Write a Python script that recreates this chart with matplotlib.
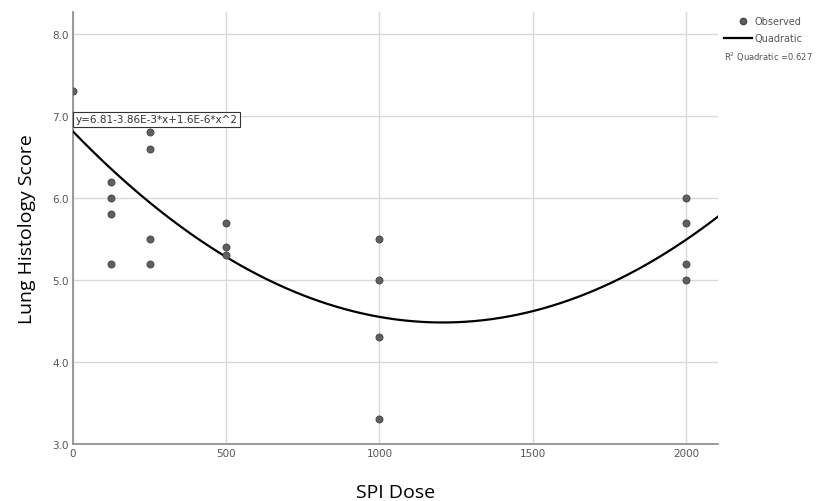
import numpy as np
import matplotlib
matplotlib.use("Agg")
import matplotlib.pyplot as plt

dose = [0, 125, 125, 125, 125, 250, 250, 250, 250, 500, 500, 500,
        1000, 1000, 1000, 1000, 2000, 2000, 2000, 2000]
score = [7.3, 6.2, 6.0, 5.8, 5.2, 6.8, 6.6, 5.5, 5.2, 5.7, 5.4, 5.3,
         5.5, 5.0, 4.3, 3.3, 6.0, 5.7, 5.2, 5.0]

# quadratic fit coefficients shown on the chart
b0, b1, b2 = 6.81, -3.86e-3, 1.6e-6
r2 = 0.627

x_ticks = [0, 500, 1000, 1500, 2000]
y_ticks = [3.0, 4.0, 5.0, 6.0, 7.0, 8.0]

tick_font = "Liberation Sans Narrow"
grey = "#8a8a8a"

fig = plt.figure(figsize=(8.25, 5.02), dpi=100)
ax = fig.add_axes([0.0885, 0.1135, 0.782, 0.861])

xs = np.linspace(0, 2105, 300)
ax.plot(xs, b0 + b1 * xs + b2 * xs ** 2, color="black", lw=1.6, zorder=3)
ax.scatter(dose, score, s=26, color="#5f5f5f", edgecolor="#444444",
           linewidth=0.6, zorder=4)

ax.set_xlim(0, 2105)
ax.set_ylim(3.0, 8.27)
ax.set_xticks(x_ticks)
ax.set_yticks(y_ticks)
ax.set_xticklabels([str(t) for t in x_ticks], fontsize=7.5, color="#555555",
                   family=[tick_font, "DejaVu Sans"])
ax.set_yticklabels([f"{t:.1f}" for t in y_ticks], fontsize=7.5, color="#555555",
                   family=[tick_font, "DejaVu Sans"])
ax.tick_params(length=0, pad=3)
ax.grid(True, color="#d9d9d9", lw=1.0)
ax.set_axisbelow(True)
for s in ["top", "right"]:
    ax.spines[s].set_visible(False)
for s in ["left", "bottom"]:
    ax.spines[s].set_color(grey)
    ax.spines[s].set_linewidth(1.2)

ax.set_xlabel("SPI Dose", fontsize=14, family=["Open Sans", "DejaVu Sans"],
              labelpad=18)
ax.set_ylabel("Lung Histology Score", fontsize=14,
              family=["Open Sans", "DejaVu Sans"], labelpad=12)

ax.text(8, 6.96, "y=6.81-3.86E-3*x+1.6E-6*x^2", fontsize=7.5,
        family=[tick_font, "DejaVu Sans"], va="center", ha="left",
        color="#333333",
        bbox=dict(boxstyle="square,pad=0.25", fc="white", ec="#333333", lw=0.8),
        zorder=5)

# legend drawn in figure coords outside the axes
fig.lines.append(plt.Line2D([0.9], [1 - 22 / 502], marker="o", ms=4.5,
                            color="#5f5f5f", mec="#444444",
                            transform=fig.transFigure))
fig.text(0.915, 1 - 22 / 502, "Observed", fontsize=7, va="center",
         color="#555555", family=[tick_font, "DejaVu Sans"])
fig.lines.append(plt.Line2D([0.878, 0.912], [1 - 39 / 502] * 2, color="black",
                            lw=1.6, transform=fig.transFigure))
fig.text(0.915, 1 - 39 / 502, "Quadratic", fontsize=7, va="center",
         color="#555555", family=[tick_font, "DejaVu Sans"])
fig.text(0.878, 1 - 57 / 502, f"R$^2$ Quadratic ={r2:.3f}", fontsize=6,
         va="center", color="#555555", family=[tick_font, "DejaVu Sans"])

fig.savefig("out.png", dpi=100)
